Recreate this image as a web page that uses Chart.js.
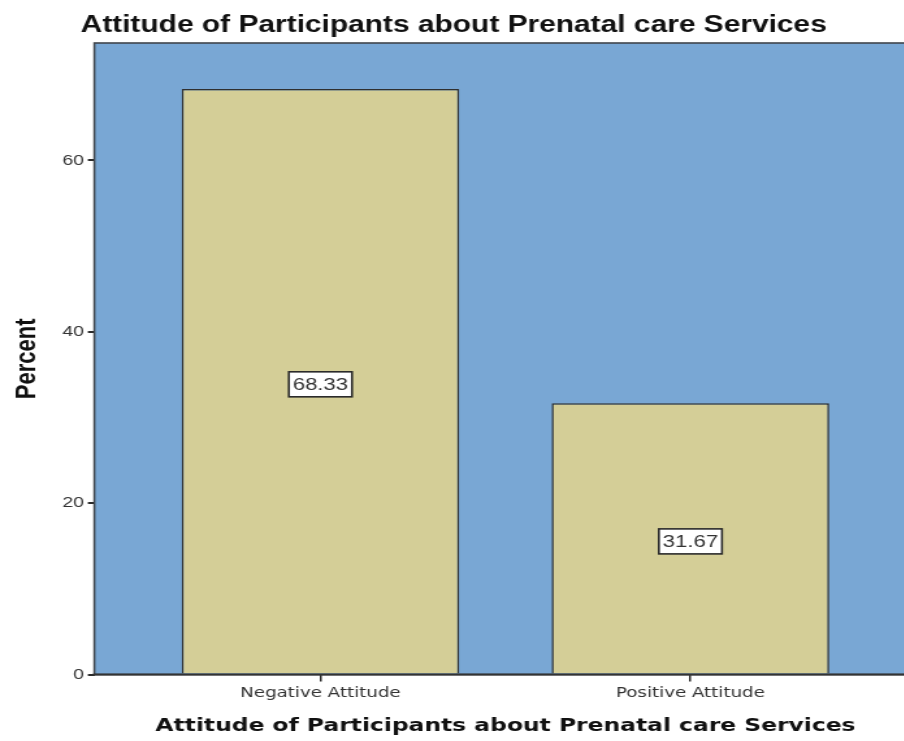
<!DOCTYPE html>
<html>
<head>
<meta charset="utf-8">
<title>Attitude of Participants about Prenatal care Services</title>
<script src="https://cdn.jsdelivr.net/npm/chart.js@4.4.1/dist/chart.umd.min.js"></script>
<style>
  html, body { margin: 0; padding: 0; background: #ffffff; overflow: hidden; }
  #wrap { width: 904px; height: 741px; overflow: hidden; }
  /* the chart is laid out narrow and widened horizontally as a whole */
  #box { width: 720px; height: 741px; transform: scaleX(1.3); transform-origin: 0 0; }
</style>
</head>
<body>
<div id="wrap"><div id="box"><canvas id="chart"></canvas></div></div>
<script>
// Attitude categories and the percentage of participants in each
const categories = ['Negative Attitude', 'Positive Attitude'];
const percents = [68.33, 31.67];
const yTicks = [0, 20, 40, 60];
const chartTitle = 'Attitude of Participants about Prenatal care Services';
const xTitle = 'Attitude of Participants about Prenatal care Services';
const yTitle = 'Percent';

const PLOT_BG = '#79a7d4';
const BAR_FILL = '#d4ce97';
const INK = '#2b2b2b';
const SANS = '"Liberation Sans", Arial, sans-serif';

// Blue plot background with a dark frame
const plotFrame = {
  id: 'plotFrame',
  beforeDatasetsDraw(chart) {
    const { ctx, chartArea: a } = chart;
    ctx.save();
    ctx.fillStyle = PLOT_BG;
    ctx.fillRect(a.left, a.top, a.right - a.left, a.bottom - a.top);
    ctx.strokeStyle = '#40454b';
    ctx.lineWidth = 1.6;
    ctx.strokeRect(a.left, a.top, a.right - a.left, a.bottom - a.top);
    ctx.restore();
  },
  afterDatasetsDraw(chart) {
    const { ctx, chartArea: a } = chart;
    ctx.save();
    ctx.strokeStyle = '#333333';
    ctx.lineWidth = 2;
    ctx.beginPath();
    ctx.moveTo(a.left - 1, a.bottom);
    ctx.lineTo(a.right, a.bottom);
    ctx.stroke();
    ctx.restore();
  }
};

// Boxed value label in the middle of each bar
const boxedLabels = {
  id: 'boxedLabels',
  afterDatasetsDraw(chart) {
    const { ctx } = chart;
    const meta = chart.getDatasetMeta(0);
    ctx.save();
    ctx.font = '17px ' + SANS;
    ctx.textAlign = 'center';
    ctx.textBaseline = 'middle';
    meta.data.forEach((bar, i) => {
      const text = percents[i].toFixed(2);
      const cy = (bar.y + bar.base) / 2 + 3;
      const w = ctx.measureText(text).width + 6;
      const h = 25;
      ctx.fillStyle = '#ffffff';
      ctx.fillRect(bar.x - w / 2, cy - h / 2, w, h);
      ctx.strokeStyle = '#2a2a2a';
      ctx.lineWidth = 1.6;
      ctx.strokeRect(bar.x - w / 2, cy - h / 2, w, h);
      ctx.fillStyle = '#333333';
      ctx.fillText(text, bar.x, cy + 1);
    });
    ctx.restore();
  }
};

// Chart heading
const heading = {
  id: 'heading',
  afterDraw(chart) {
    const { ctx } = chart;
    ctx.save();
    ctx.font = 'bold 23px ' + SANS;
    ctx.fillStyle = '#111111';
    ctx.textAlign = 'center';
    ctx.textBaseline = 'alphabetic';
    ctx.fillText(chartTitle, 349, 32);
    ctx.restore();
  }
};

new Chart(document.getElementById('chart'), {
  type: 'bar',
  data: {
    datasets: [{
      data: percents.map((v, i) => ({ x: i, y: v })),
      backgroundColor: BAR_FILL,
      borderColor: '#2f2f2f',
      borderWidth: 1.5,
      borderSkipped: 'bottom',
      barPercentage: 0.75,
      categoryPercentage: 1.0
    }]
  },
  options: {
    responsive: true,
    maintainAspectRatio: false,
    animation: false,
    layout: { padding: { top: 43, left: 2, right: 15, bottom: 4 } },
    plugins: {
      legend: { display: false },
      tooltip: { enabled: false },
      title: { display: false }
    },
    scales: {
      x: {
        type: 'linear',
        offset: false,
        min: -0.611,
        max: 1.611,
        afterBuildTicks(scale) { scale.ticks = categories.map((_, i) => ({ value: i })); },
        grid: { offset: false, drawOnChartArea: false, drawTicks: true, tickLength: 7, color: INK, lineWidth: 1.5 },
        border: { display: false },
        ticks: {
          autoSkip: false,
          maxRotation: 0,
          padding: 3,
          color: '#333333',
          font: { family: '"DejaVu Sans", Verdana, sans-serif', size: 14 },
          callback: (v) => categories[v]
        },
        title: {
          display: true,
          text: xTitle,
          color: '#111111',
          font: { family: '"DejaVu Sans", Verdana, sans-serif', size: 18, weight: 'bold' },
          padding: { top: 11, bottom: 0 }
        }
      },
      y: {
        min: 0,
        max: 73.7,
        afterBuildTicks(scale) { scale.ticks = yTicks.map(v => ({ value: v })); },
        grid: { drawOnChartArea: false, drawTicks: true, tickLength: 5, color: INK, lineWidth: 2 },
        border: { display: false },
        ticks: {
          padding: 3,
          color: '#333333',
          font: { family: SANS, size: 15 }
        },
        title: {
          display: true,
          text: yTitle,
          color: '#111111',
          font: { family: SANS, size: 22, weight: 'bold' },
          padding: { top: 6, bottom: 10.5 }
        }
      }
    }
  },
  plugins: [plotFrame, boxedLabels, heading]
});
</script>
</body>
</html>
